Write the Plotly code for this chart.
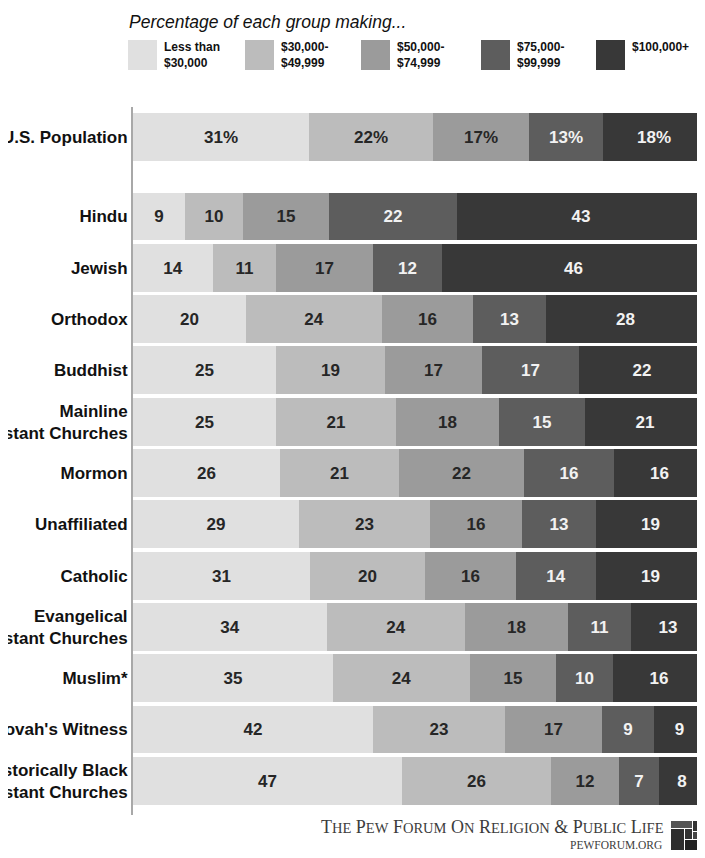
import plotly.graph_objects as go

# ---------------- data ----------------
groups = ["U.S. Population", "Hindu", "Jewish", "Orthodox", "Buddhist",
          "Mainline<br>Protestant Churches", "Mormon", "Unaffiliated", "Catholic",
          "Evangelical<br>Protestant Churches", "Muslim*", "Jehovah's Witness",
          "Historically Black<br>Protestant Churches"]

income_brackets = ["Less than<br>$30,000", "$30,000-<br>$49,999", "$50,000-<br>$74,999",
                   "$75,000-<br>$99,999", "$100,000+"]

less_30k   = [31, 9, 14, 20, 25, 25, 26, 29, 31, 34, 35, 42, 47]
k30_50     = [22, 10, 11, 24, 19, 21, 21, 23, 20, 24, 24, 23, 26]
k50_75     = [17, 15, 17, 16, 17, 18, 22, 16, 16, 18, 15, 17, 12]
k75_100    = [13, 22, 12, 13, 17, 15, 16, 13, 14, 11, 10, 9, 7]
k100_plus  = [18, 43, 46, 28, 22, 21, 16, 19, 19, 13, 16, 9, 8]

series = [less_30k, k30_50, k50_75, k75_100, k100_plus]

# ---------------- style ----------------
OFF = 8                       # page body margin
W, H = 705 - OFF, 858 - 2 * OFF
PL, PR, PT, PB = 133, 705, 107, 815          # plot area in page pixels
colors = ["#e0e0e0", "#bcbcbc", "#9b9b9b", "#5d5d5d", "#383838"]
text_colors = ["#262626", "#262626", "#262626", "#f2f2f2", "#f2f2f2"]
FONT = "Liberation Sans, Arial, sans-serif"
SERIF = "Liberation Serif, Times New Roman, serif"

# y positions: U.S. population separated from the rest by an extra gap
ypos = [-1.55] + list(range(len(groups) - 1))
pitch = 51.3
y_top = 0 - (216.5 - PT) / pitch
y_bot = (PB - 216.5) / pitch


def px(x):
    return (x - PL) / (PR - PL)


def py(y):
    return 1 - (y - PT) / (PB - PT)


fig = go.Figure()
for i, vals in enumerate(series):
    labels = [f"{v}%" if j == 0 else f"{v}" for j, v in enumerate(vals)]
    fig.add_trace(go.Bar(
        x=vals, y=ypos, orientation="h", width=0.935,
        marker=dict(color=colors[i], line=dict(width=0)),
        text=labels, textposition="inside", insidetextanchor="middle",
        constraintext="none",
        textfont=dict(family=FONT, size=17, color=text_colors[i], weight="bold"),
        name=income_brackets[i], showlegend=False, hoverinfo="skip",
    ))

fig.update_layout(
    width=W, height=H, barmode="stack", barnorm="percent", bargap=0,
    paper_bgcolor="white", plot_bgcolor="white",
    margin=dict(l=PL - OFF, r=W - (PR - OFF), t=PT - OFF, b=H - (PB - OFF),
                autoexpand=False),
    font=dict(family=FONT, color="#111"),
    xaxis=dict(range=[0, 100], visible=False, fixedrange=True),
    yaxis=dict(range=[y_bot, y_top], tickvals=ypos, ticktext=groups,
               tickfont=dict(family=FONT, size=17, color="#111", weight="bold"),
               showgrid=False, zeroline=False, showline=True, linecolor="#a8a8a8",
               linewidth=2, ticks="", ticklabelstandoff=0, automargin=False),
)

shapes = []
annotations = []

# legend title
annotations.append(dict(x=px(127), y=py(22), xref="paper", yref="paper",
                        xanchor="left", yanchor="middle", showarrow=False,
                        text="<i>Percentage of each group making...</i>",
                        font=dict(family=FONT, size=17.5, color="#111")))
# legend items
sw_x = [128, 245, 361, 481, 596]
for i, lab in enumerate(income_brackets):
    shapes.append(dict(type="rect", xref="paper", yref="paper",
                       x0=px(sw_x[i]), x1=px(sw_x[i] + 29), y0=py(40), y1=py(70),
                       fillcolor=colors[i], line=dict(width=0)))
    annotations.append(dict(x=px(sw_x[i] + 34), y=py(38), xref="paper", yref="paper",
                            xanchor="left", yanchor="top", align="left", showarrow=False,
                            text=f"<b>{lab}</b>",
                            font=dict(family=FONT, size=12, color="#111")))


# footer (small caps imitation)
def sc(word, small):
    if len(word) > 1:
        return word[0] + f'<span style="font-size:{small}px">{word[1:]}</span>'
    return word


footer1 = " ".join(sc(w, 14.5) for w in ["THE", "PEW", "FORUM", "ON", "RELIGION", "&",
                                          "PUBLIC", "LIFE"])
annotations.append(dict(x=px(665), y=py(827), xref="paper", yref="paper",
                        xanchor="right", yanchor="middle", showarrow=False, borderpad=0,
                        text=footer1,
                        font=dict(family=SERIF, size=18, color="#3c3c3c")))
annotations.append(dict(x=px(663), y=py(845), xref="paper", yref="paper",
                        xanchor="right", yanchor="middle", showarrow=False, borderpad=0,
                        text="PEWFORUM.ORG",
                        font=dict(family=SERIF, size=11.5, color="#3c3c3c")))

# logo
logo = [(671, 821, 692, 828, "#555"), (693, 821, 703, 831, "#333"),
        (671, 829, 684, 850, "#2e2e2e"), (685, 829, 692, 839, "#333"),
        (685, 840, 703, 850, "#222"), (693, 832, 703, 839, "#444")]
for x0, y0, x1, y1, c in logo:
    shapes.append(dict(type="rect", xref="paper", yref="paper",
                       x0=px(x0), x1=px(x1), y0=py(y0), y1=py(y1),
                       fillcolor=c, line=dict(width=0)))

fig.update_layout(shapes=shapes, annotations=annotations)
fig.write_html("out.html")
